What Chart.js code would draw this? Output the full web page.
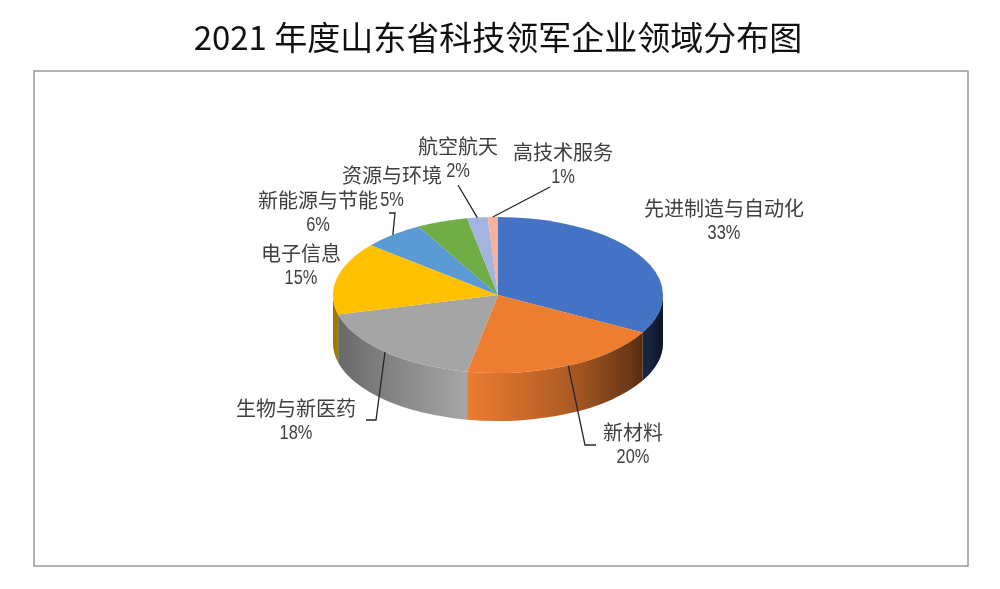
<!DOCTYPE html>
<html>
<head>
<meta charset="utf-8">
<script src="https://cdn.jsdelivr.net/npm/chart.js@4.4.1/dist/chart.umd.min.js"></script>
<style>
  html, body { margin: 0; padding: 0; background: #fff; }
  #wrap { width: 1000px; height: 589px; }
</style>
</head>
<body>
<div id="wrap"><canvas id="chart" width="1000" height="589"></canvas></div>
<script>
// data
var titleText = '2021 年度山东省科技领军企业领域分布图';
var categories = ['先进制造与自动化', '新材料', '生物与新医药', '电子信息', '新能源与节能', '资源与环境', '航空航天', '高技术服务'];
var shares = [33, 20, 18, 15, 6, 5, 2, 1];

// styles
var sliceColors = ['#4472C4', '#ED7D31', '#A5A5A5', '#FFC000', '#5B9BD5', '#70AD47', '#A3B4E0', '#F4B29C'];
var TILT = 0.473;   // vertical squash of the top face
var DEPTH = 48;     // thickness of the pie

// label layout, offsets from pie centre (first line of each label)
var labelOffsets = [[226, -87], [135, 137], [-202, 113], [-197, -42], [-180, -95], [-106, -120], [-40, -149], [65, -143]];
// leader line points after the rim anchor, offsets from pie centre (null = no line)
var leaderPoints = [null, [[87, 150], [98, 150]], [[-122, 125], [-132, 125]], null, [[-103, -82], [-109, -82]], null, [[-40, -110]], [[52, -108]]];

var CJK = "'Noto Sans CJK SC', 'Noto Sans', sans-serif";

function shade(ctx, cx, rx) {
    var g = ctx.createLinearGradient(cx - rx, 0, cx + rx, 0);
    g.addColorStop(0, 'rgba(0,0,0,0.38)');
    g.addColorStop(0.2, 'rgba(0,0,0,0.18)');
    g.addColorStop(0.4, 'rgba(0,0,0,0)');
    g.addColorStop(0.7, 'rgba(0,0,0,0.25)');
    g.addColorStop(0.9, 'rgba(0,0,0,0.55)');
    g.addColorStop(1, 'rgba(0,0,0,0.8)');
    return g;
}

var pie3d = {
    id: 'pie3d',
    beforeDraw: function (chart) {
        var ctx = chart.ctx;
        ctx.save();
        ctx.fillStyle = '#fff';
        ctx.fillRect(0, 0, chart.width, chart.height);
        ctx.strokeStyle = '#9a9a9a';
        ctx.lineWidth = 1.5;
        ctx.strokeRect(34, 71, 934, 495);
        ctx.restore();
    },
    beforeDatasetsDraw: function (chart) {
        var ctx = chart.ctx;
        var arcs = chart.getDatasetMeta(0).data;
        var cx = arcs[0].x, cy = arcs[0].y, rx = arcs[0].outerRadius, ry = rx * TILT;

        // side walls, only the front half (0..PI) is visible
        arcs.forEach(function (a, i) {
            var s = Math.max(a.startAngle, 0), e = Math.min(a.endAngle, Math.PI);
            if (e <= s) return;
            ctx.beginPath();
            ctx.ellipse(cx, cy, rx, ry, 0, s, e);
            ctx.ellipse(cx, cy + DEPTH, rx, ry, 0, e, s, true);
            ctx.closePath();
            ctx.fillStyle = sliceColors[i];
            ctx.fill();
            ctx.fillStyle = shade(ctx, cx, rx);
            ctx.fill();
        });

        // top face
        arcs.forEach(function (a, i) {
            ctx.beginPath();
            ctx.moveTo(cx, cy);
            ctx.ellipse(cx, cy, rx, ry, 0, a.startAngle, a.endAngle);
            ctx.closePath();
            ctx.fillStyle = sliceColors[i];
            ctx.fill();
        });

        // leader lines
        ctx.save();
        ctx.strokeStyle = '#262626';
        ctx.lineWidth = 1.3;
        arcs.forEach(function (a, i) {
            var pts = leaderPoints[i];
            if (!pts) return;
            var mid = (a.startAngle + a.endAngle) / 2;
            ctx.beginPath();
            ctx.moveTo(cx + rx * Math.cos(mid), cy + ry * Math.sin(mid));
            pts.forEach(function (p) { ctx.lineTo(cx + p[0], cy + p[1]); });
            ctx.stroke();
        });
        ctx.restore();

        // labels
        ctx.save();
        ctx.fillStyle = '#404040';
        ctx.textAlign = 'center';
        ctx.textBaseline = 'middle';
        categories.forEach(function (name, i) {
            var x = cx + labelOffsets[i][0], y = cy + labelOffsets[i][1];
            ctx.font = '20px ' + CJK;
            ctx.fillText(name, x, y);
            ctx.save();
            ctx.translate(x, y + 25);
            ctx.scale(0.82, 1);
            ctx.font = '20px "Liberation Sans", Arial, sans-serif';
            ctx.fillText(shares[i] + '%', 0, 0);
            ctx.restore();
        });
        ctx.restore();
        return false;
    }
};

new Chart(document.getElementById('chart'), {
    type: 'pie',
    data: {
        labels: categories,
        datasets: [{
            data: shares,
            backgroundColor: sliceColors,
            borderWidth: 0,
            hoverOffset: 0
        }]
    },
    options: {
        responsive: false,
        animation: false,
        events: [],
        layout: { padding: { left: 0, right: 4, top: 0, bottom: 129 } },
        plugins: {
            legend: { display: false },
            tooltip: { enabled: false },
            title: {
                display: true,
                text: titleText,
                color: '#111',
                font: { size: 33, family: CJK, weight: 'normal' },
                padding: { top: 18, bottom: 72.4 }
            }
        }
    },
    plugins: [pie3d]
});
</script>
</body>
</html>
